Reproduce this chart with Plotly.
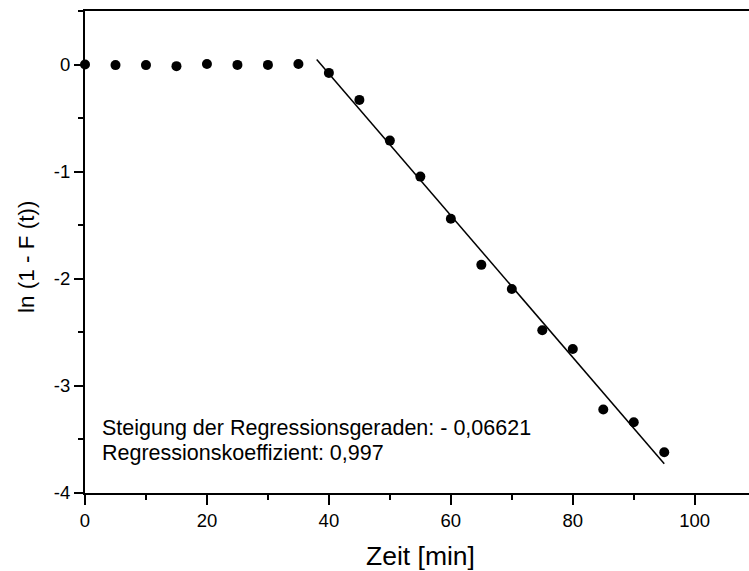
import numpy as np
import plotly.graph_objects as go

# Measured values
zeit = [0, 5, 10, 15, 20, 25, 30, 35, 40, 45, 50, 55, 60, 65, 70, 75, 80, 85, 90, 95]
ln_werte = [0.0, -0.005, -0.005, -0.015, 0.005, -0.003, -0.003, 0.005,
            -0.078, -0.33, -0.71, -1.046, -1.44, -1.87, -2.095, -2.48,
            -2.655, -3.22, -3.34, -3.62]

# Regression line
steigung = -0.06621
achsenabschnitt = 2.563
fit_bereich = [38, 95]
r_koeff = 0.997

x_ticks = [0, 20, 40, 60, 80, 100]
y_ticks = [0, -1, -2, -3, -4]

fit_x = np.array(fit_bereich, dtype=float)
fit_y = achsenabschnitt + steigung * fit_x

font_family = "Arial, Liberation Sans, sans-serif"

fig = go.Figure()
fig.add_trace(go.Scatter(
    x=fit_x, y=fit_y, mode="lines",
    line=dict(color="black", width=1.5), showlegend=False,
))
fig.add_trace(go.Scatter(
    x=zeit, y=ln_werte, mode="markers",
    marker=dict(color="black", size=10), showlegend=False, cliponaxis=False,
))

fig.add_annotation(
    x=2.4, y=-3.39, xanchor="left", yanchor="middle", showarrow=False,
    text="Steigung der Regressionsgeraden: - " + f"{abs(steigung):.5f}".replace(".", ","),
    font=dict(family=font_family, size=21.5, color="black"),
)
fig.add_annotation(
    x=2.4, y=-3.625, xanchor="left", yanchor="middle", showarrow=False,
    text="Regressionskoeffizient: " + f"{r_koeff:.3f}".replace(".", ","),
    font=dict(family=font_family, size=21.5, color="black"),
)

# Axis titles
fig.add_annotation(
    xref="paper", yref="paper", x=0.506, y=-0.131,
    xanchor="center", yanchor="middle", showarrow=False,
    text="Zeit [min]", font=dict(family=font_family, size=26.5, color="black"),
)
fig.add_annotation(
    xref="paper", yref="paper", x=-0.087, y=0.49, textangle=-90,
    xanchor="center", yanchor="middle", showarrow=False,
    text="ln (1 - F (t))", font=dict(family=font_family, size=22.5, color="black"),
)

fig.update_layout(
    width=749, height=571,
    margin=dict(l=85, r=0, t=11, b=78),
    paper_bgcolor="white", plot_bgcolor="white",
    font=dict(family=font_family, size=18.5, color="black"),
    xaxis=dict(
        range=[0, 108.9], tickvals=x_ticks, ticktext=[str(v) for v in x_ticks],
        showgrid=False, zeroline=False,
        showline=True, linecolor="black", linewidth=2, mirror=True,
        ticks="outside", ticklen=10, tickwidth=2, tickcolor="black",
        minor=dict(dtick=10, tick0=0, ticks="outside", ticklen=5, tickwidth=1.5, tickcolor="black"),
        tickfont=dict(size=18.5),
    ),
    yaxis=dict(
        range=[-4, 0.5], tickvals=y_ticks, ticktext=[str(v) for v in y_ticks],
        showgrid=False, zeroline=False,
        showline=True, linecolor="black", linewidth=2, mirror=False,
        ticks="outside", ticklen=9, tickwidth=2, tickcolor="black",
        minor=dict(dtick=0.5, tick0=0, ticks="outside", ticklen=5, tickwidth=1.5, tickcolor="black"),
        tickfont=dict(size=18.5),
    ),
)

fig.write_html("out.html")
